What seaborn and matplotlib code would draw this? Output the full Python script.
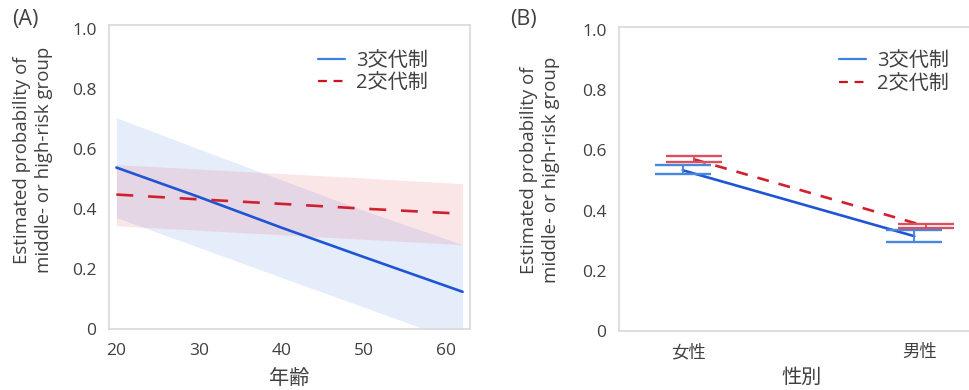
import numpy as np
import pandas as pd
import matplotlib
matplotlib.use("Agg")
import matplotlib.pyplot as plt
from matplotlib.lines import Line2D
import seaborn as sns

sns.set_theme(style="white")
plt.rcParams["font.family"] = ["Open Sans", "Noto Sans CJK JP", "DejaVu Sans"]

# ---- data -----------------------------------------------------------------
shifts = ["3交代制", "2交代制"]

# (A) estimated probability by age, with 95% CI band
ages = [20, 30, 40, 50, 62]
prob_3 = [0.538, 0.440, 0.338, 0.240, 0.124]
ci_lo_3 = [0.371, 0.272, 0.172, 0.073, -0.046]
ci_hi_3 = [0.704, 0.600, 0.497, 0.395, 0.281]
prob_2 = [0.448, 0.432, 0.417, 0.401, 0.384]
ci_lo_2 = [0.344, 0.329, 0.314, 0.299, 0.281]
ci_hi_2 = [0.548, 0.533, 0.518, 0.503, 0.484]

# (B) estimated probability by sex, with error bars
sexes = ["女性", "男性"]
sex_prob_3 = [0.534, 0.315]
sex_lo_3 = [0.520, 0.295]
sex_hi_3 = [0.550, 0.335]
sex_prob_2 = [0.570, 0.348]
sex_lo_2 = [0.563, 0.342]
sex_hi_2 = [0.583, 0.354]

ytick_vals = [0, 0.2, 0.4, 0.6, 0.8, 1.0]
ytick_labels = ["0", "0.2", "0.4", "0.6", "0.8", "1.0"]
age_ticks = [20, 30, 40, 50, 60]

ylabel = "Estimated probability of\nmiddle- or high-risk group"

# ---- styling --------------------------------------------------------------
TEXT = "#404040"
SPINE = "#d9d9d9"
BLUE = "#1f55d4"
RED = "#d0202e"
BLUE_LEG = "#3b82e0"
RED_LEG = "#d0101e"
palette = {shifts[0]: BLUE, shifts[1]: RED}

W, H = 969, 390
fig = plt.figure(figsize=(W / 100, H / 100), dpi=100)


def px_axes(left, top, right, bottom):
    return fig.add_axes([left / W, 1 - bottom / H, (right - left) / W, (bottom - top) / H])


def style_axes(ax):
    for s in ax.spines.values():
        s.set_color(SPINE)
        s.set_linewidth(1.2)
    ax.set_yticks(ytick_vals)
    ax.set_yticklabels(ytick_labels)
    ax.tick_params(axis="both", length=0, labelsize=12.5, colors=TEXT)
    ax.tick_params(axis="y", pad=9)
    ax.tick_params(axis="x", pad=10)
    ax.grid(False)


def add_legend(ax, x, y):
    handles = [
        Line2D([], [], color=BLUE_LEG, lw=1.6),
        Line2D([], [], color=RED_LEG, lw=1.6, dashes=(4, 3)),
    ]
    ax.legend(handles, shifts, loc="upper left", bbox_to_anchor=(x, y),
              frameon=False, fontsize=14.5, handlelength=1.35, handletextpad=0.55,
              labelspacing=0.12, borderaxespad=0, borderpad=0,
              labelcolor=TEXT)


# ---- (A) age ----------------------------------------------------------------
axA = px_axes(109, 25, 470, 329)
dfA = pd.DataFrame({
    "年齢": ages * 2,
    "prob": prob_3 + prob_2,
    "shift": [shifts[0]] * len(ages) + [shifts[1]] * len(ages),
})
axA.fill_between(ages, ci_lo_3, ci_hi_3, color="#4a86e6", alpha=0.14, lw=0)
axA.fill_between(ages, ci_lo_2, ci_hi_2, color="#de3e4b", alpha=0.13, lw=0)
sns.lineplot(data=dfA, x="年齢", y="prob", hue="shift", style="shift",
             palette=palette, dashes={shifts[0]: "", shifts[1]: (6.4, 5.6)},
             linewidth=1.9, ax=axA, legend=False)
axA.set_xlim(19.1, 62.9)
axA.set_ylim(0, 1.013)
axA.set_xticks(age_ticks)
style_axes(axA)
axA.set_xlabel("年齢", fontsize=14.5, color=TEXT, labelpad=7)
axA.set_ylabel(ylabel, fontsize=13.4, color=TEXT, linespacing=1.3)
axA.yaxis.set_label_coords(-0.21, 0.555)
axA.yaxis.label.set_va("center")
add_legend(axA, 0.579, 0.915)
fig.text(12 / W, 1 - 19 / H, "(A)", fontsize=15.5, color=TEXT, va="center", ha="left")

# ---- (B) sex ----------------------------------------------------------------
axB = px_axes(619, 27, 985, 331)
offset = 0.025
xpos = np.arange(len(sexes))
dfB = pd.DataFrame({
    "pos": list(xpos - offset) + list(xpos + offset),
    "prob": sex_prob_3 + sex_prob_2,
    "shift": [shifts[0]] * len(sexes) + [shifts[1]] * len(sexes),
})
sns.lineplot(data=dfB, x="pos", y="prob", hue="shift", style="shift",
             palette=palette, dashes={shifts[0]: "", shifts[1]: (4.5, 3.8)},
             linewidth=1.9, ax=axB, legend=False)
for vals, lo, hi, x, col in [
    (sex_prob_3, sex_lo_3, sex_hi_3, xpos - offset, "#4a86e0"),
    (sex_prob_2, sex_lo_2, sex_hi_2, xpos + offset, "#d9505e"),
]:
    v = np.array(vals)
    yerr = np.vstack([v - np.array(lo), np.array(hi) - v])
    axB.errorbar(x, v, yerr=yerr, fmt="none", ecolor=col, elinewidth=1.4,
                 capsize=20.5, capthick=1.7, zorder=3)
axB.set_xlim(-0.30, 1.28)
axB.set_ylim(0, 1.01)
axB.set_xticks(xpos)
axB.set_xticklabels(sexes)
style_axes(axB)
axB.set_xlabel("性別", fontsize=14.5, color=TEXT, labelpad=5)
axB.set_ylabel(ylabel, fontsize=13.4, color=TEXT, linespacing=1.3)
axB.yaxis.set_label_coords(-0.215, 0.53)
axB.yaxis.label.set_va("center")
add_legend(axB, 0.60, 0.92)
fig.text(510 / W, 1 - 19 / H, "(B)", fontsize=15.5, color=TEXT, va="center", ha="left")

fig.savefig("out.png", dpi=100, facecolor="white")
